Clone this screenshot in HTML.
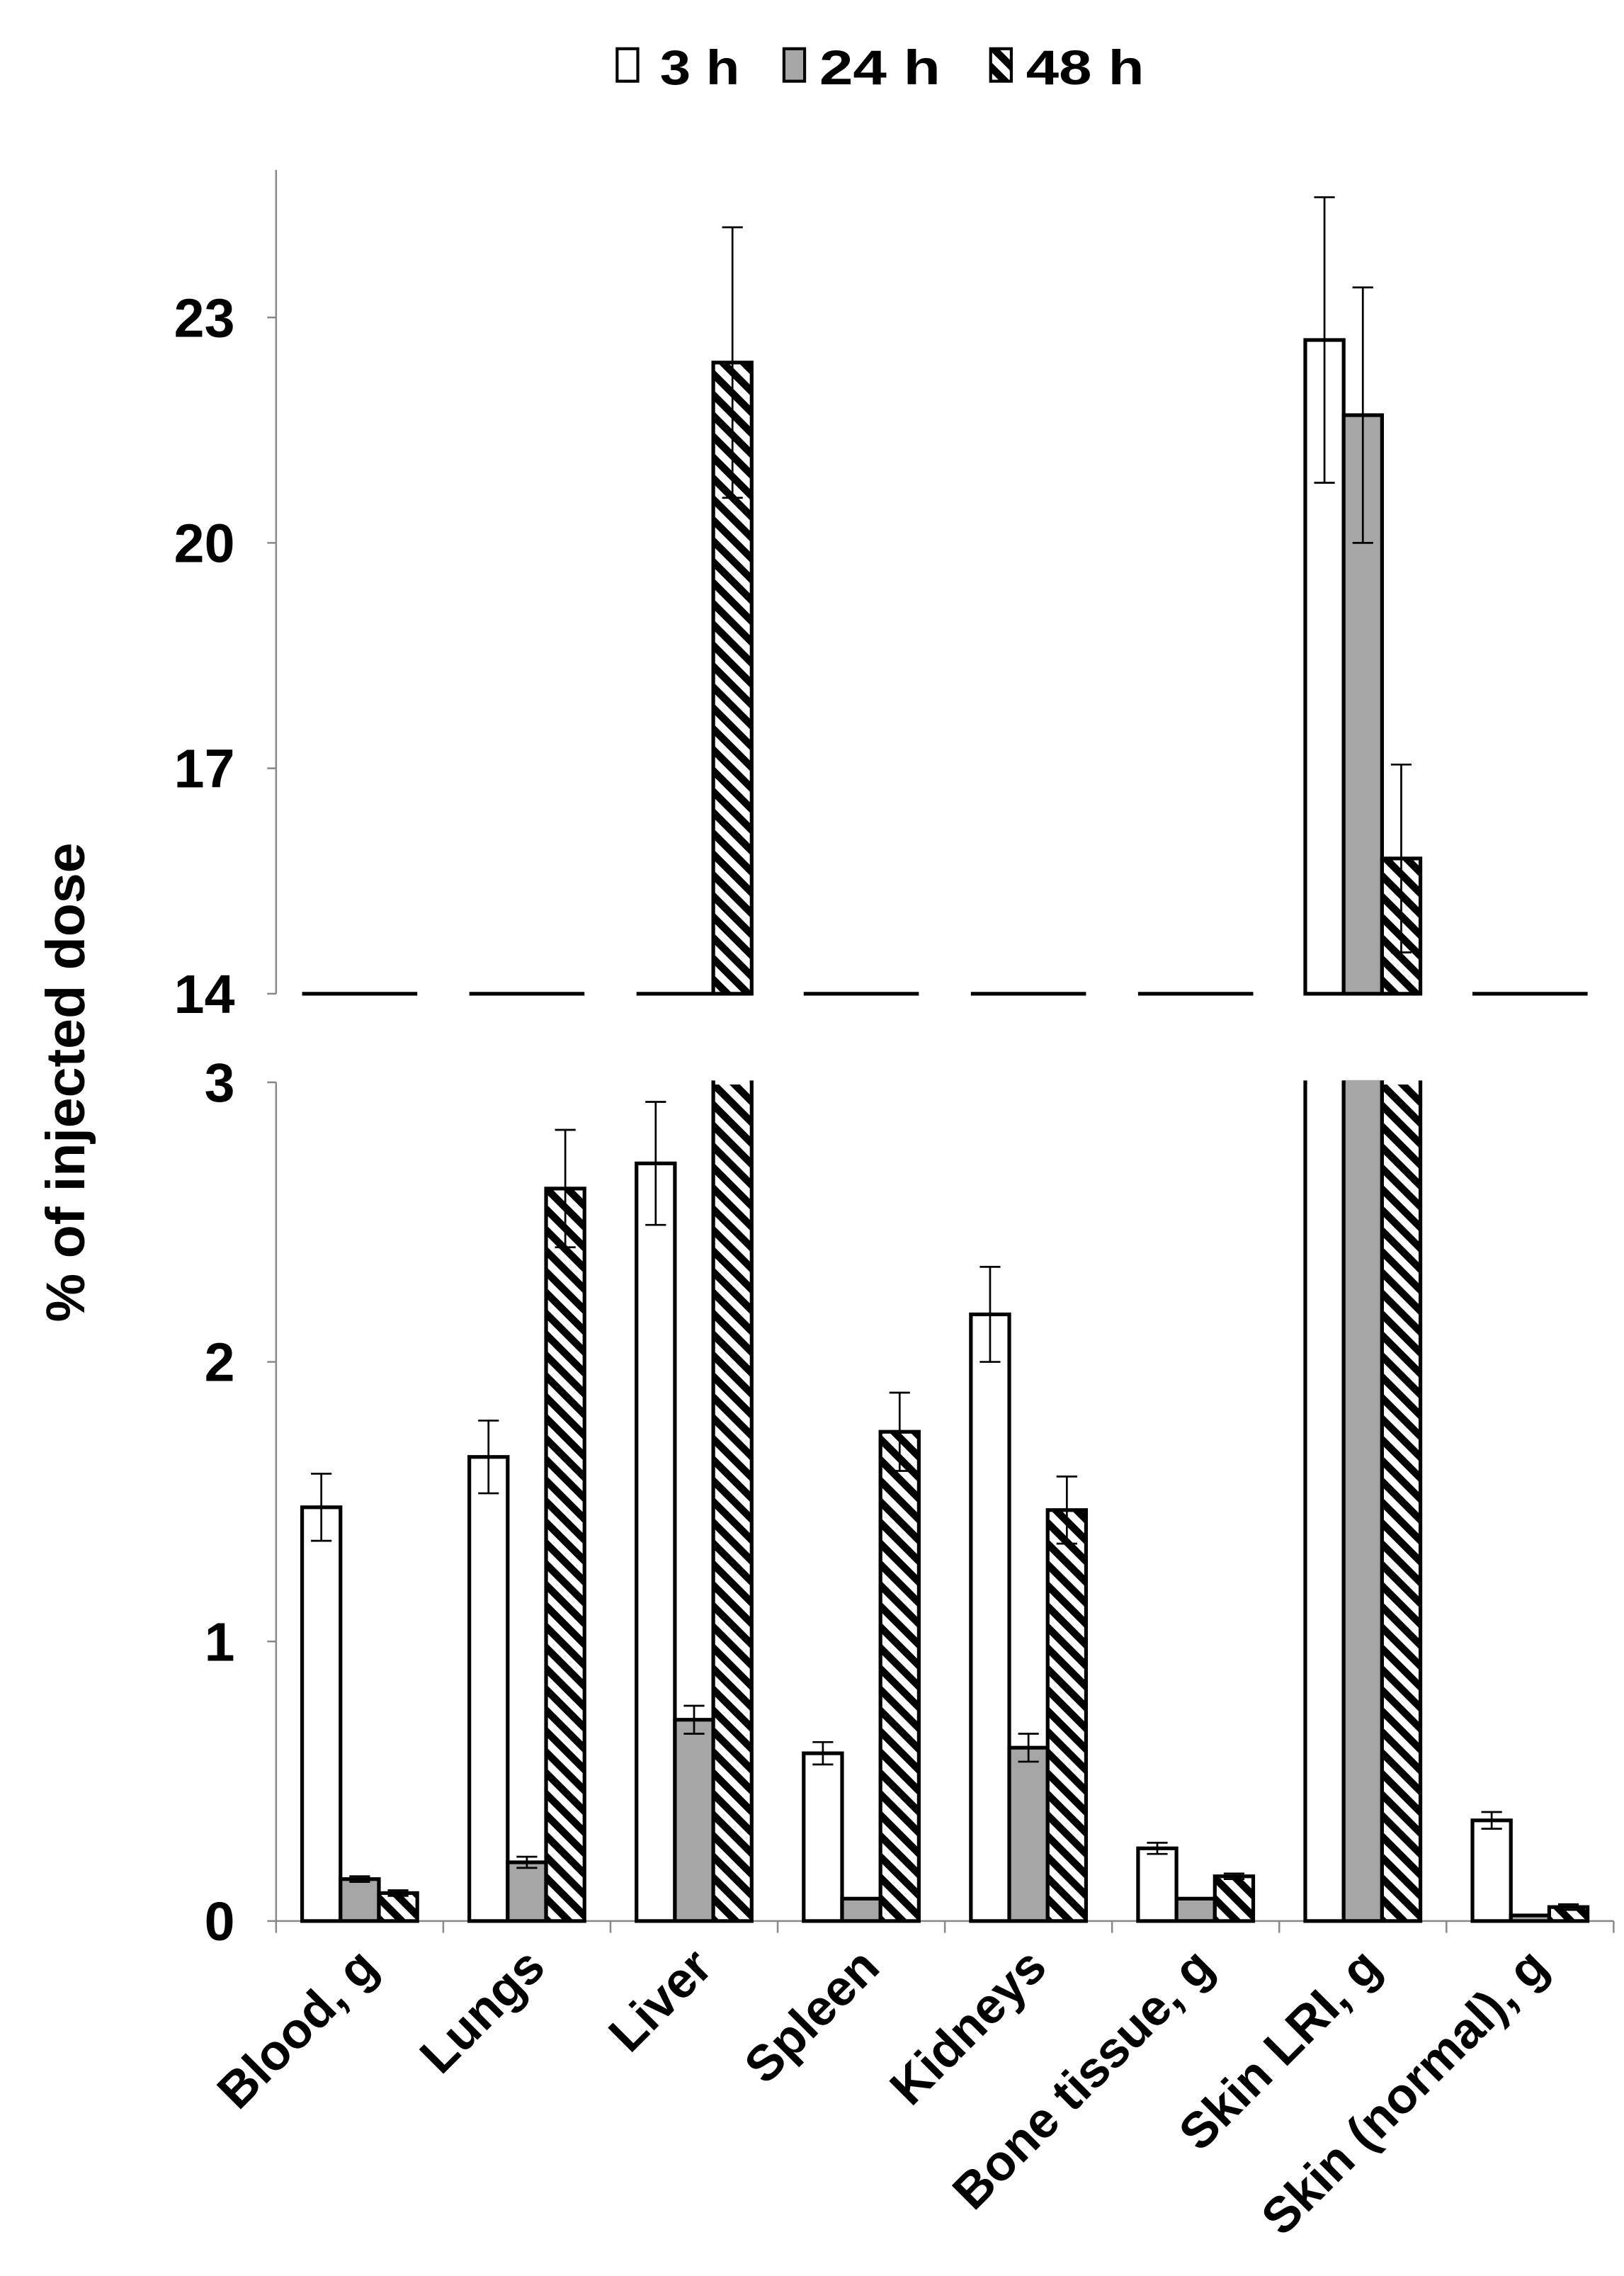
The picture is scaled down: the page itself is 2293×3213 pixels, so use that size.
<!DOCTYPE html>
<html><head><meta charset="utf-8"><style>
html,body{margin:0;padding:0;background:#fff}
svg{display:block}
text{font-family:"Liberation Sans",Arial,sans-serif;font-weight:bold;fill:#000}
</style></head><body>
<svg id="chart" width="2293" height="3213" viewBox="0 0 1100 1541.4" xmlns="http://www.w3.org/2000/svg">
<defs>
<pattern id="hatch" patternUnits="userSpaceOnUse" width="10" height="10" patternTransform="rotate(-45)">
<rect width="10" height="10" fill="#fff"/>
<rect x="0" y="0" width="5" height="10" fill="#000"/>
</pattern>
</defs>
<g id="legend">
<rect x="418" y="33" width="14" height="22" fill="#fff" stroke="#000" stroke-width="2"/>
<text x="447" y="57" font-size="33" textLength="54" lengthAdjust="spacingAndGlyphs">3 h</text>
<rect x="531" y="33" width="14" height="22" fill="#a6a6a6" stroke="#000" stroke-width="2"/>
<text x="555" y="57" font-size="33" textLength="82" lengthAdjust="spacingAndGlyphs">24 h</text>
<rect x="671" y="33" width="14" height="22" fill="url(#hatch)" stroke="#000" stroke-width="2"/>
<text x="695" y="57" font-size="33" textLength="80" lengthAdjust="spacingAndGlyphs">48 h</text>
</g>
<text transform="translate(57,733) rotate(-90)" text-anchor="middle" font-size="37">% of injected dose</text>
<g id="plot"></g>
</svg>
<script>
const categories = ["Blood, g","Lungs","Liver","Spleen","Kidneys","Bone tissue, g","Skin LRI, g","Skin (normal), g"];
const series = ["3h","24h","48h"];
const values3h  = [1.48,1.66,2.71,0.60,2.17,0.26,22.7,0.36];
const values24h = [0.15,0.21,0.72,0.08,0.62,0.08,21.7,0.02];
const values48h = [0.10,2.62,22.4,1.75,1.47,0.16,15.8,0.05];
const err3h  = [0.12,0.13,0.22,0.04,0.17,0.02,1.9,0.03];
const err24h = [0.01,0.02,0.05,0.00,0.05,0.00,1.7,0.00];
const err48h = [0.01,0.21,1.8,0.14,0.12,0.01,1.25,0.01];
const topTicks = [14,17,20,23];
const bottomTicks = [0,1,2,3];

const NS="http://www.w3.org/2000/svg";
const plot=document.getElementById('plot');
const X0=187, X1=1093, catW=(X1-X0)/categories.length, barW=26;
const yTop=v=>673-(v-14)*(673-215)/9;
const yBot=v=>1301-v*(1301-733)/3;
const fills=["#fff","#a6a6a6","url(#hatch)"];
const vals=[values3h,values24h,values48h], errs=[err3h,err24h,err48h];
function mk(tag,attrs){const e=document.createElementNS(NS,tag);for(const k in attrs)e.setAttribute(k,attrs[k]);plot.appendChild(e);return e;}

let a=mk('line',{x1:X0,y1:115,x2:X0,y2:673,stroke:'#888','stroke-width':1.2});


a=mk('line',{x1:X0,y1:733,x2:X0,y2:1301,stroke:'#888','stroke-width':1.2});


a=mk('line',{x1:X0,y1:1301,x2:X1,y2:1301,stroke:'#888','stroke-width':1.2});


for(let i=0;i<=categories.length;i++){
  const t=mk('line',{x1:X0+i*catW,y1:1301,x2:X0+i*catW,y2:1309,stroke:'#888','stroke-width':1.2});
  
  
}
function yTick(v,y){
  const t=mk('line',{x1:X0-6,y1:y,x2:X0,y2:y,stroke:'#888','stroke-width':1.2});
  
  
  const l=mk('text',{x:X0-28,y:y+13,'text-anchor':'end','font-size':37});
  l.textContent=v;
  
  
}
topTicks.forEach(v=>yTick(v,yTop(v)));
bottomTicks.forEach(v=>yTick(v,yBot(v)));

categories.forEach((c,i)=>{
  const gx=X0+i*catW+(catW-3*barW)/2;
  const base=mk('line',{x1:gx,y1:673,x2:gx+3*barW,y2:673,stroke:'#000','stroke-width':2.5});
  
  
  for(let s=0;s<3;s++){
    const v=vals[s][i], e=errs[s][i], x=gx+s*barW;
    const vb=Math.min(v,3), yb=yBot(vb);
    const r=mk('rect',{x:x,y:yb,width:barW,height:1301-yb,fill:fills[s],stroke:'#000','stroke-width':2.5});
    
    
    if(v>3){
      const m=mk('line',{x1:x+1.3,y1:yb,x2:x+barW-1.3,y2:yb,stroke:s==1?'#a6a6a6':'#fff','stroke-width':3});
      
      
    }
    const cx=x+barW/2;
    if(v<=3){
      const eb=mk('path',{d:`M${cx},${yBot(v-e)}V${yBot(v+e)}M${cx-7},${yBot(v+e)}H${cx+7}M${cx-7},${yBot(v-e)}H${cx+7}`,stroke:'#000','stroke-width':1.3,fill:'none'});
      
      
    }
    if(v>14){
      const yt=yTop(v);
      const r2=mk('rect',{x:x,y:yt,width:barW,height:673-yt,fill:fills[s],stroke:'#000','stroke-width':2.5});
      
      
      const eb=mk('path',{d:`M${cx},${yTop(v-e)}V${yTop(v+e)}M${cx-7},${yTop(v+e)}H${cx+7}M${cx-7},${yTop(v-e)}H${cx+7}`,stroke:'#000','stroke-width':1.3,fill:'none'});
      
      
    }
  }
  const lx=X0+(i+0.5)*catW+14, ly=1334;
  const t=mk('text',{x:lx,y:ly,'text-anchor':'end','font-size':34,transform:`rotate(-45 ${lx} ${ly})`});
  t.textContent=c;
  
  
});
</script>
</body></html>
